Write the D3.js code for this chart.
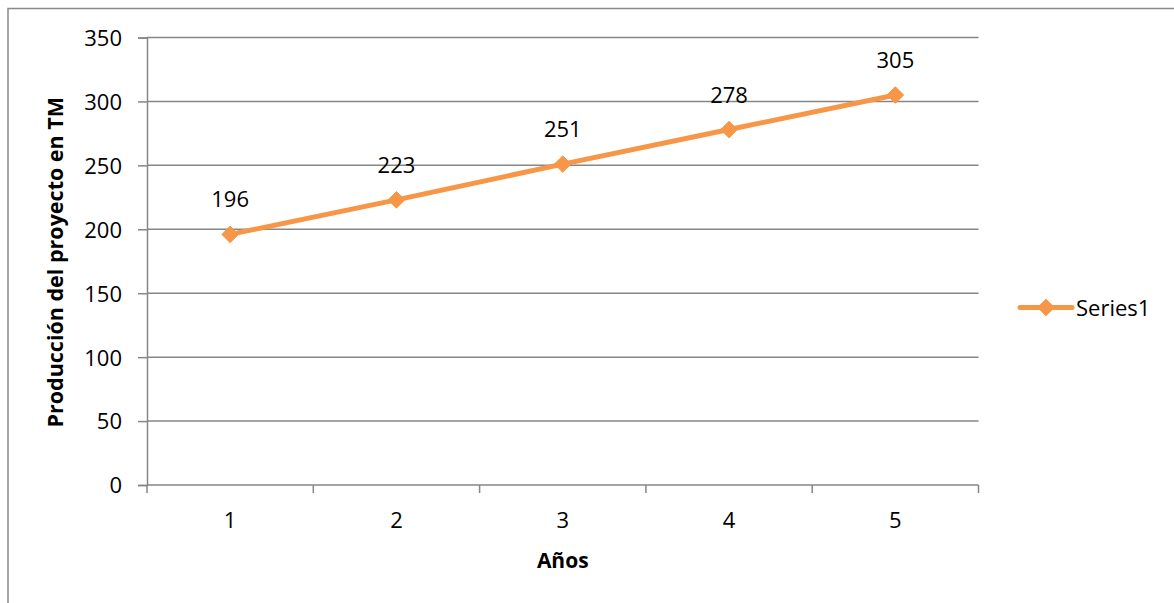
<!DOCTYPE html>
<html><head><meta charset="utf-8">
<script src="https://cdn.jsdelivr.net/npm/d3@7"></script>
<style>
html,body{margin:0;padding:0;background:#fff;}
text{font-family:"Open Sans",sans-serif;fill:#000;}
</style></head>
<body>
<svg id="chart" width="1174" height="603"></svg>
<script>
const categories = ["1","2","3","4","5"];
const values = [196, 223, 251, 278, 305];
const yTicks = [0,50,100,150,200,250,300,350];
const seriesName = "Series1";
const xTitle = "Años";
const yTitle = "Producción del proyecto en TM";

(function(){
const svg = d3.select("#chart");
const W = 1174, H = 603;
const pL = 147, pR = 978.5, pT = 37.5, pB = 485;
const color = "#F79646", grid = "#868686";
const fs = "22px";

// outer border
svg.append("path").attr("d", `M8,${H+2} L8,8.5 L${W+2},8.5`).attr("fill","none").attr("stroke","#888").attr("stroke-width",1.5);

const x = d3.scaleBand().domain(categories).range([pL, pR]);
const y = d3.scaleLinear().domain([0,350]).range([pB, pT]);

// gridlines
svg.append("g").selectAll("line").data(yTicks).join("line")
  .attr("x1", pL).attr("x2", pR).attr("y1", d=>y(d)).attr("y2", d=>y(d))
  .attr("stroke", grid).attr("stroke-width", 1.5);

// y axis
const yAxis = svg.append("g").attr("transform", `translate(${pL},0)`)
  .call(d3.axisLeft(y).tickValues(yTicks).tickSize(9).tickPadding(16));
yAxis.select(".domain").attr("stroke", grid).attr("stroke-width",1.5);
yAxis.selectAll(".tick line").attr("stroke", grid).attr("stroke-width",1.5);
yAxis.selectAll("text").style("font-size",fs).attr("fill","#000").attr("dy","0.36em");

// x axis
const xAxis = svg.append("g").attr("transform", `translate(0,${pB})`)
  .call(d3.axisBottom(x).tickSize(0).tickPadding(0));
xAxis.select(".domain").remove();
xAxis.selectAll("text").style("font-size",fs).attr("fill","#000").attr("y", 43).attr("dy", 0);
const bounds = categories.map(c => x(c)).concat([x(categories[categories.length-1]) + x.bandwidth()]);
svg.append("g").selectAll("line").data(bounds).join("line")
  .attr("x1", d=>d).attr("x2", d=>d).attr("y1", pB).attr("y2", pB+8)
  .attr("stroke", grid).attr("stroke-width",1.5);

// line
const cx = c => x(c) + x.bandwidth()/2;
const pts = categories.map((c,i)=>[cx(c), y(values[i])]);
svg.append("path").attr("d", d3.line()(pts)).attr("fill","none")
  .attr("stroke", color).attr("stroke-width", 5).attr("stroke-linejoin","round").attr("stroke-linecap","round");

const diamond = d3.symbol().type(d3.symbolDiamond2).size(175);
svg.append("g").selectAll("path").data(pts).join("path")
  .attr("d", diamond).attr("transform", d=>`translate(${d[0]},${d[1]})`)
  .attr("fill", color).attr("stroke", color).attr("stroke-width",1).attr("stroke-linejoin","round");

// data labels
svg.append("g").selectAll("text").data(values).join("text")
  .attr("x", (d,i)=>cx(categories[i])).attr("y", d=>y(d) - 27)
  .attr("text-anchor","middle")
  .style("font-size",fs).text(d=>d);

// titles
svg.append("text").attr("x", (pL+pR)/2).attr("y", 568)
  .attr("text-anchor","middle")
  .style("font-size","21px").style("font-weight","bold").text(xTitle);
svg.append("text").attr("transform", `translate(63,${(pT+pB)/2 + 1}) rotate(-90)`)
  .attr("text-anchor","middle")
  .style("font-size","21.5px").style("font-weight","bold").text(yTitle);

// legend
const ly = 307.5;
svg.append("line").attr("x1",1020).attr("x2",1072).attr("y1",ly).attr("y2",ly)
  .attr("stroke",color).attr("stroke-width",5).attr("stroke-linecap","round");
svg.append("path").attr("d", diamond).attr("transform",`translate(1046,${ly})`).attr("fill",color).attr("stroke",color);
svg.append("text").attr("x",1076).attr("y",316)
  .style("font-size",fs).text(seriesName);
})();
</script>
</body></html>
